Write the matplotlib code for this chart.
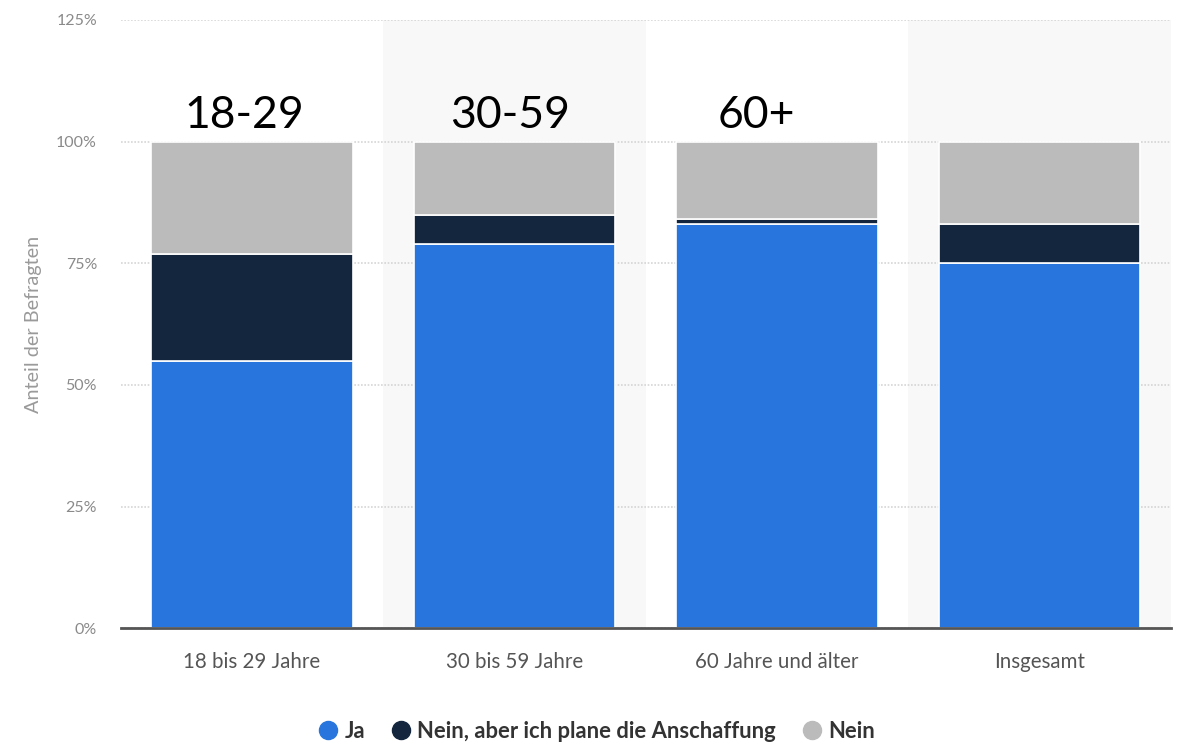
import matplotlib
matplotlib.use("Agg")
import matplotlib.pyplot as plt
from matplotlib.lines import Line2D
import numpy as np

categories = ["18 bis 29 Jahre", "30 bis 59 Jahre", "60 Jahre und älter", "Insgesamt"]
ja = [55, 79, 83, 75]
nein_plane = [22, 6, 1, 8]
nein = [23, 15, 16, 17]
series_names = ["Ja", "Nein, aber ich plane die Anschaffung", "Nein"]
annotations = ["18-29", "30-59", "60+"]
yticks = [0, 25, 50, 75, 100, 125]

colors = ["#2876dd", "#13263e", "#bbbbbb"]
fam = ["Lato", "DejaVu Sans"]

fig = plt.figure(figsize=(11.78, 7.44), dpi=100)
ax = fig.add_axes([0.1024, 0.1555, 0.8916, 0.8177])

x = np.arange(len(categories))
# alternating background bands
for i in x:
    if i % 2 == 1:
        ax.axvspan(i - 0.5, i + 0.5, color="#f8f8f8", zorder=0, lw=0)

bottom = np.zeros(len(categories))
for vals, c in zip([ja, nein_plane, nein], colors):
    ax.bar(x, vals, width=0.767, bottom=bottom, color=c, edgecolor="white",
           linewidth=1.2, zorder=3)
    bottom += np.array(vals)

ax.set_xlim(-0.5, len(categories) - 0.5)
ax.set_ylim(0, 125)
ax.set_yticks(yticks)
ax.set_yticklabels([f"{v}%" for v in yticks], color="#8a8a8a", fontsize=11.5,
                   family=fam)
ax.set_xticks(x)
ax.set_xticklabels(categories, color="#555555", fontsize=14.8, family=fam)
ax.tick_params(axis="y", length=0, pad=17)
ax.tick_params(axis="x", length=0, pad=17)
ax.yaxis.grid(True, linestyle=(0, (1, 1)), color="#d5d5d5", linewidth=1.2, zorder=1)
ax.set_axisbelow(True)
for s in ["top", "right", "left"]:
    ax.spines[s].set_visible(False)
ax.spines["bottom"].set_color("#555555")
ax.spines["bottom"].set_linewidth(2)
ax.spines["bottom"].set_zorder(4)
ax.set_ylabel("Anteil der Befragten", color="#9a9a9a", fontsize=14.3, labelpad=10,
              family=fam)

# manual annotations above bars
offsets = [-0.03, -0.017, -0.077]
for i, (t, off) in enumerate(zip(annotations, offsets)):
    ax.text(i + off, 102.8, t, ha="center", va="baseline", fontsize=32,
            color="black", family=fam)

handles = [Line2D([0], [0], marker="o", color="w", markerfacecolor=c,
                  markeredgecolor=c, markersize=13, linestyle="None") for c in colors]
leg = fig.legend(handles, series_names, loc="center", bbox_to_anchor=(0.504, 0.017),
                 ncol=3, frameon=False, handletextpad=0.05, columnspacing=0.93,
                 handlelength=1.4,
                 prop={"family": fam, "weight": "bold", "size": 15.8})
for t in leg.get_texts():
    t.set_color("#333333")

fig.savefig("out.png", dpi=100)
